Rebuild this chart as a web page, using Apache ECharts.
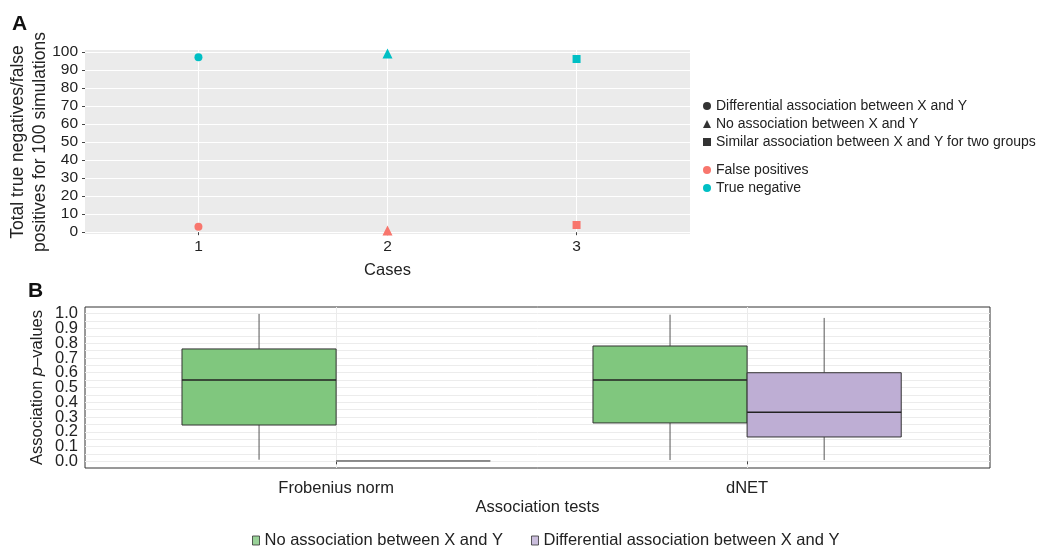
<!DOCTYPE html>
<html><head><meta charset="utf-8">
<script src="https://cdn.jsdelivr.net/npm/echarts@6/dist/echarts.min.js"></script>
<style>html,body{margin:0;padding:0;background:#fff}#c{width:1040px;height:547px}</style>
</head><body><div id="c"></div>
<script>
// ---------- Panel A data ----------
const cases = [1, 2, 3];
const caseShapes = ['circle', 'triangle', 'rect'];
const shapeNames = ['Differential association between X and Y', 'No association between X and Y', 'Similar association between X and Y for two groups'];
const statusNames = ['False positives', 'True negative'];
const falsePositives = [3, 1, 4];
const trueNegatives = [97, 99, 96];
const yTicksA = [0, 10, 20, 30, 40, 50, 60, 70, 80, 90, 100];

// ---------- Panel B data ----------
const tests = ['Frobenius norm', 'dNET'];
const groupNames = ['No association between X and Y', 'Differential association between X and Y'];
// [min, q1, median, q3, max] per test
const noAssocBox = [[0.011, 0.246, 0.551, 0.761, 0.998], [0.009, 0.260, 0.551, 0.781, 0.993]];
const diffAssocBox = [[0.003, 0.003, 0.003, 0.003, 0.003], [0.009, 0.165, 0.332, 0.600, 0.971]];
const yTicksBEven = [0, 0.2, 0.4, 0.6, 0.8, 1.0];
const yTicksBOdd = [0.1, 0.3, 0.5, 0.7, 0.9];
const yMinorB = [0.05, 0.15, 0.25, 0.35, 0.45, 0.55, 0.65, 0.75, 0.85, 0.95];

const colFP = '#F8766D', colTN = '#00BFC4';
const colGreen = '#80C77E', colPurple = '#BEAED4';
const FONT = 'Liberation Sans, Arial, Helvetica, sans-serif';
const symSize = {circle: 8, triangle: 10, rect: 8};

function pts(vals) {
  return cases.map((c, i) => ({value: [c, vals[i]], symbol: caseShapes[i], symbolSize: symSize[caseShapes[i]]}));
}

function boxRender(side, fill) {
  return function (params, api) {
    const x = api.value(0);
    const xl = side < 0 ? x - 0.375 : x;
    const xr = side < 0 ? x : x + 0.375;
    const xc = (xl + xr) / 2;
    const pMin = api.coord([xc, api.value(1)]);
    const pQ1 = api.coord([xl, api.value(2)]);
    const pMed = api.coord([xl, api.value(3)]);
    const pQ3 = api.coord([xr, api.value(4)]);
    const pMax = api.coord([xc, api.value(5)]);
    const pMedR = api.coord([xr, api.value(3)]);
    const flat = Math.abs(pQ1[1] - pQ3[1]) < 0.5;
    return {type: 'group', children: [
      {type: 'line', shape: {x1: pMax[0], y1: pMax[1], x2: pMax[0], y2: pQ3[1]}, style: {stroke: '#555', lineWidth: 1}},
      {type: 'line', shape: {x1: pMin[0], y1: pQ1[1], x2: pMin[0], y2: pMin[1]}, style: {stroke: '#555', lineWidth: 1}},
      {type: 'rect', shape: {x: pQ1[0], y: pQ3[1], width: pQ3[0] - pQ1[0], height: pQ1[1] - pQ3[1]},
        style: {fill: fill, stroke: flat ? '#888' : '#333', lineWidth: flat ? 1.6 : 1}},
      {type: 'line', shape: {x1: pMed[0], y1: pMed[1], x2: pMedR[0], y2: pMedR[1]}, style: {stroke: flat ? '#888' : '#222', lineWidth: flat ? 1.6 : 1.4}}
    ]};
  };
}

const labB = {fontSize: 16.5, color: '#222', margin: 7, showMinLabel: true, showMaxLabel: true, formatter: v => v.toFixed(1)};

const chart = echarts.init(document.getElementById('c'), null, {renderer: 'canvas'});
const option = {
  animation: false,
  textStyle: {fontFamily: FONT},
  title: [
    {text: 'A', left: 12, top: 14, padding: 0, textStyle: {fontSize: 21, fontWeight: 'bold', color: '#111', fontFamily: FONT}},
    {text: 'B', left: 28, top: 281, padding: 0, textStyle: {fontSize: 21, fontWeight: 'bold', color: '#111', fontFamily: FONT}}
  ],
  grid: [
    {left: 85, top: 50, width: 605, height: 184, show: true, backgroundColor: '#EBEBEB', borderWidth: 0, outerBoundsMode: 'none', containLabel: false},
    {left: 85, top: 307, width: 905, height: 161, show: true, backgroundColor: '#fff', borderColor: '#333', borderWidth: 1, outerBoundsMode: 'none', containLabel: false}
  ],
  xAxis: [
    {gridIndex: 0, type: 'value', min: 0.4, max: 3.6,
      name: 'Cases', nameLocation: 'middle', nameGap: 28, nameMoveOverlap: false, nameTextStyle: {fontSize: 16.5, color: '#222'},
      axisLine: {show: false},
      axisTick: {show: true, customValues: cases, length: 3, lineStyle: {color: '#444'}},
      axisLabel: {customValues: cases, fontSize: 15.5, color: '#222', margin: 5},
      splitLine: {show: true, lineStyle: {color: '#fff', width: 1}}},
    {gridIndex: 1, type: 'value', min: 0.389, max: 2.591,
      name: 'Association tests', nameLocation: 'middle', nameGap: 31, nameMoveOverlap: false, nameTextStyle: {fontSize: 16.5, color: '#222'},
      axisLine: {show: false},
      axisTick: {show: true, customValues: [1, 2], length: 3, lineStyle: {color: '#444'}},
      axisLabel: {customValues: [1, 2], fontSize: 16.5, color: '#222', margin: 12, formatter: v => tests[Math.round(v) - 1]},
      splitLine: {show: true, lineStyle: {color: '#EBEBEB', width: 1}}}
  ],
  yAxis: [
    {gridIndex: 0, type: 'value', min: -1, max: 101,
      name: 'Total true negatives/false\npositives for 100 simulations', nameLocation: 'middle', nameGap: 34, nameMoveOverlap: false,
      nameTextStyle: {fontSize: 17.5, color: '#222', lineHeight: 22},
      axisLine: {show: false},
      axisTick: {show: true, customValues: yTicksA, length: 3, lineStyle: {color: '#444'}},
      axisLabel: {customValues: yTicksA, fontSize: 15.5, color: '#222', margin: 7, showMinLabel: true, showMaxLabel: true},
      splitLine: {show: true, lineStyle: {color: '#fff', width: 1}}},
    {gridIndex: 1, type: 'value', min: -0.045, max: 1.045, position: 'left', offset: 0,
      name: '{a|Association }{i|p}{a|\u2013values}', nameLocation: 'middle', nameGap: 39, nameMoveOverlap: false,
      nameTextStyle: {fontSize: 16.5, color: '#222', rich: {a: {fontSize: 16.5, color: '#222'}, i: {fontSize: 16.5, color: '#222', fontStyle: 'italic'}}},
      axisLine: {show: false},
      axisTick: {show: false, customValues: yTicksBEven.concat(yTicksBOdd, yMinorB)},
      axisLabel: Object.assign({customValues: yTicksBEven}, labB),
      splitLine: {show: true, lineStyle: {color: '#ECECEC', width: 1}}},
    {gridIndex: 1, type: 'value', min: -0.045, max: 1.045, position: 'left', offset: 0,
      axisLine: {show: false},
      axisTick: {show: false, customValues: yTicksBOdd},
      axisLabel: Object.assign({customValues: yTicksBOdd}, labB),
      splitLine: {show: false}}
  ],
  legend: [
    {orient: 'vertical', left: 698, top: 94, itemGap: 4, itemWidth: 8, itemHeight: 8, selectedMode: false,
      textStyle: {fontSize: 14, color: '#222'},
      data: shapeNames.map((n, i) => ({name: n, icon: caseShapes[i], itemStyle: {color: '#000'}}))},
    {orient: 'vertical', left: 698, top: 158, itemGap: 4, itemWidth: 8, itemHeight: 8, selectedMode: false,
      textStyle: {fontSize: 14, color: '#222'},
      data: statusNames.map((n, i) => ({name: n, icon: 'circle', itemStyle: {color: i ? colTN : colFP}}))},
    {orient: 'horizontal', left: 247, top: 527, itemGap: 28, itemWidth: 7, itemHeight: 9, selectedMode: false,
      textStyle: {fontSize: 16.5, color: '#222'},
      data: groupNames.map((n, i) => ({name: n, icon: 'rect', itemStyle: {color: i ? colPurple : colGreen, borderColor: '#333', borderWidth: 1}}))}
  ],
  series: [
    {name: statusNames[0], type: 'scatter', xAxisIndex: 0, yAxisIndex: 0, data: pts(falsePositives), itemStyle: {color: colFP, opacity: 1}, z: 5},
    {name: statusNames[1], type: 'scatter', xAxisIndex: 0, yAxisIndex: 0, data: pts(trueNegatives), itemStyle: {color: colTN, opacity: 1}, z: 5},
    {name: shapeNames[0], type: 'scatter', xAxisIndex: 0, yAxisIndex: 0, symbol: 'circle', data: [], itemStyle: {color: '#000'}},
    {name: shapeNames[1], type: 'scatter', xAxisIndex: 0, yAxisIndex: 0, symbol: 'triangle', data: [], itemStyle: {color: '#000'}},
    {name: shapeNames[2], type: 'scatter', xAxisIndex: 0, yAxisIndex: 0, symbol: 'rect', data: [], itemStyle: {color: '#000'}},
    {name: groupNames[0], type: 'custom', xAxisIndex: 1, yAxisIndex: 1, itemStyle: {color: colGreen},
      renderItem: boxRender(-1, colGreen), encode: {x: 0, y: [1, 2, 3, 4, 5]},
      data: tests.map((t, i) => [i + 1].concat(noAssocBox[i]))},
    {name: groupNames[1], type: 'custom', xAxisIndex: 1, yAxisIndex: 1, itemStyle: {color: colPurple},
      renderItem: boxRender(1, colPurple), encode: {x: 0, y: [1, 2, 3, 4, 5]},
      data: tests.map((t, i) => [i + 1].concat(diffAssocBox[i]))}
  ]
};
chart.setOption(option);
</script>
</body></html>
